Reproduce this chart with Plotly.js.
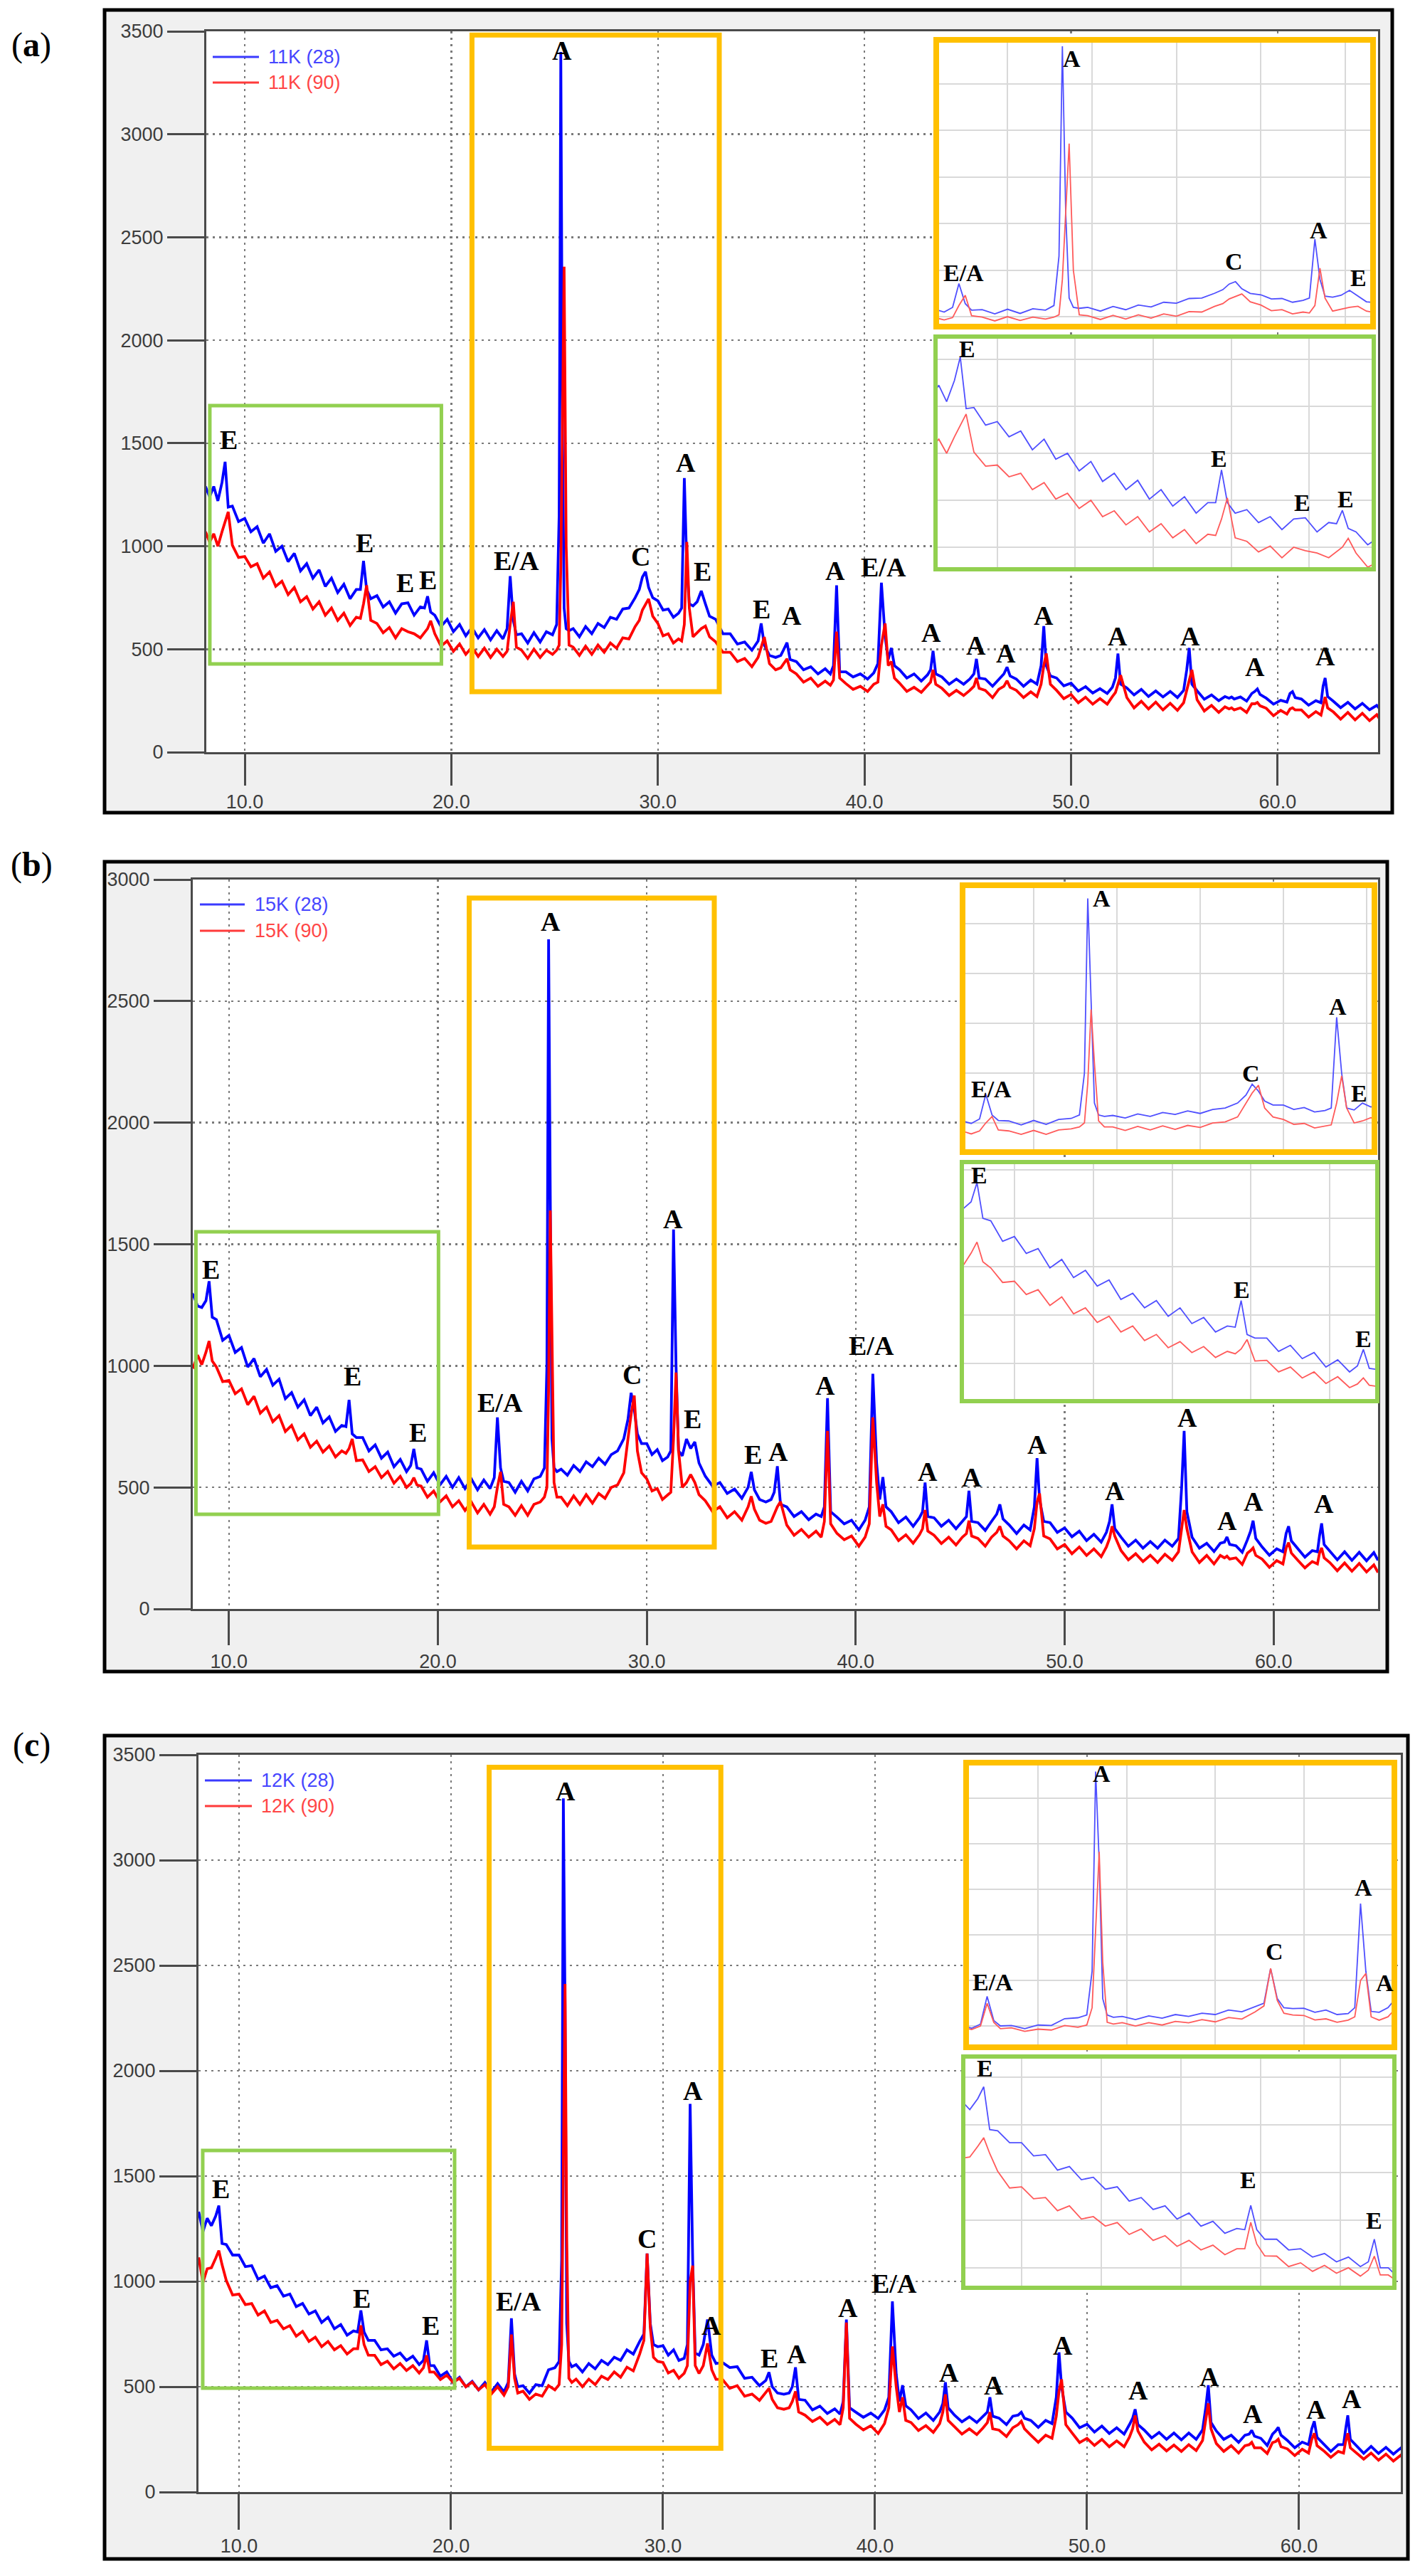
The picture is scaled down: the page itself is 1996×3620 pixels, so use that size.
<!DOCTYPE html>
<html>
<head>
<meta charset="utf-8">
<script src="https://cdn.plot.ly/plotly-3.0.1.min.js"></script>
<style>html,body{margin:0;padding:0;background:#ffffff;}</style>
</head>
<body>
<div id="chart" style="width:1996px;height:3620px;"></div>
<script>
// ---------------- DATA (2θ in degrees, intensity in counts) ----------------
const twoTheta = [
  8.1, 8.3, 8.5, 8.7, 8.9,
  9.05, 9.2,
  9.4, 9.7, 10.0, 10.3, 10.6, 10.9, 11.2, 11.5, 11.8, 12.1, 12.4, 12.7, 13.0, 13.3, 13.6, 13.9, 14.2, 14.5, 14.8, 15.1, 15.4,
  15.6, 15.75, 15.9, 16.1,
  16.4, 16.7, 17.0, 17.3, 17.6, 17.9, 18.2, 18.5,
  18.7, 18.85, 19.0,
  19.2, 19.5, 19.8, 20.1, 20.4, 20.7, 21.0, 21.3, 21.6, 21.9, 22.2, 22.5,
  22.7, 22.85, 23.0, 23.15,
  23.4, 23.7, 24.0, 24.3, 24.6, 24.9,
  25.1, 25.22, 25.3, 25.38, 25.46, 25.56, 25.7,
  25.9, 26.2, 26.5, 26.8, 27.1, 27.4, 27.7, 28.0, 28.3, 28.6, 28.9,
  29.1, 29.25, 29.4, 29.55, 29.75,
  30.0, 30.25, 30.5, 30.75, 31.0,
  31.15, 31.28, 31.4, 31.52, 31.7,
  31.9, 32.1, 32.3, 32.5,
  32.8, 33.15, 33.5, 33.85, 34.2, 34.55,
  34.85, 35.0, 35.15,
  35.4, 35.7, 35.95,
  36.1, 36.25, 36.4,
  36.7, 37.05, 37.4, 37.75, 38.1, 38.35,
  38.5, 38.65, 38.8,
  39.1, 39.45, 39.8, 40.15, 40.45,
  40.65, 40.82, 41.0, 41.15, 41.3, 41.45,
  41.7, 42.05, 42.4, 42.75, 43.05,
  43.2, 43.32, 43.45,
  43.75, 44.1, 44.45, 44.8, 45.1,
  45.3, 45.42, 45.55,
  45.85, 46.2, 46.5,
  46.75, 46.9, 47.05,
  47.35, 47.7, 48.05, 48.35,
  48.55, 48.68, 48.8, 49.0,
  49.3, 49.65, 50.0, 50.35, 50.7, 51.05, 51.4, 51.75, 52.0,
  52.15, 52.27, 52.4,
  52.7, 53.05, 53.4, 53.75, 54.1, 54.45, 54.8, 55.15, 55.45,
  55.6, 55.72, 55.85,
  56.1, 56.45, 56.8, 57.15, 57.45,
  57.65, 57.77, 57.9,
  58.2, 58.5, 58.75,
  58.9, 59.02, 59.15,
  59.45, 59.8, 60.15, 60.45,
  60.6, 60.72, 60.85,
  61.15, 61.5, 61.85, 62.1,
  62.2, 62.3, 62.42,
  62.7, 63.05, 63.4, 63.75, 64.1, 64.45, 64.8, 65.0
];

// (a) 11K
const blueA = [
  1290, 1240, 1290, 1220, 1310,
  1410, 1190,
  1195, 1120, 1135, 1070, 1095, 1015, 1060, 975, 1000, 925, 965, 880, 915, 845, 885, 805, 845, 775, 815, 745, 790,
  790, 929, 790, 745,
  760, 705, 730, 675, 720, 725, 665, 705,
  700, 757, 680,
  665, 610, 645, 585, 620, 565, 605, 555, 595, 545, 590, 550,
  600, 855, 640, 570,
  575, 530, 580, 535, 585, 570,
  620, 1150, 3400, 1600, 700, 600, 590,
  600, 560, 610, 575, 625, 605, 655, 645, 695, 700, 750,
  790, 850, 876, 800, 750,
  735, 690, 695, 655, 675,
  700, 1331, 900, 720, 710,
  730, 783, 720, 660,
  645, 575, 575, 525, 535, 495,
  540, 625, 520,
  470, 460, 470,
  500, 532, 450,
  440, 400, 415, 380, 405, 380,
  420, 810, 390,
  390, 365, 380, 355, 385,
  430, 823, 560, 450, 506, 420,
  400, 360, 380, 345, 375,
  400, 492, 380,
  365, 330, 355, 330, 355,
  380, 453, 360,
  355, 320, 355,
  380, 413, 370,
  355, 320, 350, 330,
  420, 612, 420, 370,
  360, 322, 335, 297, 318, 287, 308, 285, 315,
  360, 479, 330,
  312, 278, 305, 270, 297, 268, 295, 265, 300,
  400, 506, 330,
  298, 257, 278, 250, 270,
  262, 268, 258,
  268, 248, 285,
  295, 307, 280,
  262, 233, 252, 243,
  285, 294, 265,
  258, 228, 250, 240,
  320, 360, 270,
  247, 216, 242, 210, 237, 206, 227, 204
];
const redA = [
  1070, 1020, 1060, 1000, 1070,
  1120, 1167,
  1005, 945, 950, 900, 915, 845, 875, 805, 830, 765, 800, 730, 755, 695, 730, 665, 700, 640, 675, 615, 655,
  650, 720, 810, 640,
  625, 580, 605, 555, 600, 585, 575, 555,
  580, 600, 638,
  575, 515, 540, 490, 525, 475, 510, 465, 505, 460, 500, 465,
  490, 620, 730, 510,
  495, 455, 500, 460, 495, 475,
  495, 520, 900, 1603, 2357, 1000, 520,
  510, 470, 515, 475, 520, 485, 530, 505, 555, 550, 610,
  640, 690, 720, 744, 660,
  625, 565, 575, 530, 550,
  540, 620, 1021, 700, 560,
  580, 600, 612, 560,
  535, 485, 485, 440, 455, 415,
  460, 510, 559,
  430, 400, 410,
  430, 453, 400,
  380, 340, 360, 320, 345, 325,
  350, 585, 360,
  333, 305, 320, 295, 330,
  340, 520, 625, 420, 440, 360,
  335, 295, 315, 290, 325,
  340, 400, 330,
  310, 275, 300, 275, 300,
  320, 360, 310,
  300, 265, 305,
  320, 347, 315,
  300, 265, 293, 270,
  330, 420, 479, 330,
  300, 260, 280, 240, 267, 233, 260, 233, 270,
  290, 330, 374,
  265, 215, 247, 210, 243, 205, 237, 203, 240,
  300, 360, 400,
  255, 200, 227, 193, 220,
  210, 215, 205,
  215, 193, 235,
  235, 241, 225,
  213, 177, 203, 185,
  210, 215, 205,
  205, 170, 197, 180,
  230, 268, 215,
  195, 160, 193, 157, 189, 153, 182, 151
];

// (b) 15K
const blueB = [
  1310, 1290, 1246, 1240, 1268,
  1348, 1200,
  1190, 1105, 1125, 1055, 1075, 995, 1030, 955, 985, 920, 945, 865, 890, 830, 860, 795, 830, 765, 790, 730, 755,
  750, 860, 720, 705,
  705, 650, 675, 620, 645, 585, 615, 565,
  590, 658, 580,
  575, 525, 560, 510, 545, 500, 540, 495, 535, 490, 530, 495,
  540, 788, 580, 525,
  520, 480, 525, 485, 535, 545,
  580, 1000, 2754, 1700, 700, 580, 565,
  575, 550, 590, 565, 605, 585, 620, 595, 635, 650, 700,
  780, 889, 820, 720, 680,
  680, 635, 655, 610, 625,
  650, 1561, 1000, 650, 630,
  699, 660, 687, 600,
  546, 505, 520, 475, 493, 455,
  500, 564, 490,
  450, 440, 450,
  480, 587, 430,
  420, 380, 400, 367, 390, 380,
  420, 867, 400,
  378, 350, 365, 325, 365,
  420, 967, 600, 450, 542, 420,
  400, 355, 378, 340, 375,
  400, 520, 380,
  375, 340, 365, 330, 360,
  380, 486, 360,
  355, 323, 360,
  390, 430, 370,
  345, 310, 345, 325,
  420, 620, 450, 360,
  355, 315, 333, 297, 320, 281, 307, 275, 315,
  360, 430, 330,
  295, 258, 283, 250, 277, 250, 283, 258, 290,
  500, 732, 400,
  295, 250, 270, 236, 270,
  275, 296, 265,
  260, 233, 285,
  320, 363, 290,
  255, 221, 247, 235,
  310, 340, 280,
  247, 213, 240, 235,
  300, 352, 265,
  237, 202, 235, 200, 233, 198, 232, 200
];
const redB = [
  1010, 995, 1044, 1005, 1056,
  1102, 1020,
  995, 935, 940, 885, 905, 840, 875, 805, 830, 770, 795, 730, 755, 695, 720, 665, 690, 645, 670, 625, 650,
  640, 660, 699, 610,
  613, 565, 585, 540, 565, 517, 545, 500,
  515, 540, 510,
  505, 460, 485, 440, 465, 420, 445, 405, 440, 395, 430, 390,
  420, 500, 564, 430,
  420, 385, 425, 385, 430, 440,
  460, 500, 900, 1639, 1100, 520, 460,
  460, 425, 465, 430, 470, 435, 475, 455, 500, 510, 560,
  700, 800, 878, 650, 560,
  535, 485, 495, 450, 470,
  480, 700, 972, 650, 500,
  520, 553, 520, 470,
  445, 400, 420, 375, 400, 365,
  420, 463, 410,
  365, 352, 360,
  390, 420, 441,
  345, 303, 327, 295, 320, 295,
  360, 732, 350,
  311, 285, 300, 258, 295,
  350, 788, 520, 380, 430, 340,
  325, 281, 305, 270, 305,
  330, 407, 320,
  303, 269, 295, 263, 295,
  310, 363, 300,
  290, 258, 295,
  315, 340, 300,
  280, 247, 280, 260,
  330, 440, 475, 300,
  288, 247, 265, 227, 255, 220, 247, 215, 255,
  290, 340, 300,
  240, 202, 227, 195, 221, 191, 225, 200, 235,
  330, 407, 330,
  235, 191, 220, 185, 220,
  210, 217, 205,
  210, 183, 230,
  240, 251, 220,
  205, 171, 199, 185,
  250, 273, 230,
  201, 169, 195, 185,
  230, 251, 210,
  190, 157, 189, 155, 187, 152, 181, 150
];

// (c) 12K
const blueC = [
  1331, 1236, 1300, 1264, 1310,
  1360, 1180,
  1175, 1125, 1125, 1070, 1075, 1010, 1025, 970, 980, 930, 940, 880, 895, 845, 860, 805, 830, 775, 795, 745, 765,
  760, 862, 760, 720,
  720, 675, 680, 645, 660, 625, 645, 605,
  625, 720, 600,
  600, 550, 570, 520, 545, 500, 525, 485, 520, 475, 515, 475,
  520, 825, 560, 500,
  505, 470, 510, 505, 580, 590,
  620, 1100, 3293, 2300, 800, 620, 595,
  605, 570, 610, 585, 625, 605, 640, 625, 675, 655, 715,
  750, 1132, 800, 700, 690,
  695, 650, 675, 625, 635,
  700, 1843, 1100, 660, 650,
  700, 819, 650, 610,
  615, 591, 595, 540, 545, 505,
  530, 569, 500,
  470, 464, 470,
  500, 592, 440,
  436, 390, 408, 373, 395, 370,
  430, 819, 400,
  379, 355, 375, 349, 390,
  450, 905, 560, 430, 507, 410,
  390, 349, 375, 340, 380,
  420, 521, 400,
  365, 333, 357, 330, 360,
  380, 450, 360,
  351, 320, 360,
  365, 379, 350,
  340, 307, 340, 325,
  450, 663, 500, 380,
  351, 305, 322, 285, 313, 278, 305, 275, 320,
  350, 393, 320,
  294, 257, 283, 250, 280, 248, 280, 250, 295,
  400, 507, 330,
  290, 250, 270, 236, 270,
  275, 293, 265,
  255, 221, 275,
  290, 307, 270,
  245, 210, 237, 225,
  300, 336, 260,
  230, 193, 225, 225,
  300, 364, 250,
  220, 184, 217, 183, 212, 180, 209, 178
];
const redC = [
  1114, 994, 1060, 1065, 1110,
  1146, 1080,
  1005, 935, 940, 890, 895, 840, 860, 805, 815, 775, 790, 740, 763, 715, 735, 690, 715, 675, 695, 655, 680,
  680, 791, 700, 650,
  649, 605, 621, 585, 610, 577, 600, 565,
  590, 649, 570,
  570, 534, 555, 520, 540, 500, 522, 485, 510, 465, 500, 460,
  500, 748, 540, 470,
  479, 440, 465, 455, 505, 485,
  510, 700, 1500, 2412, 1200, 540, 520,
  536, 500, 536, 510, 550, 534, 570, 545, 593, 575, 655,
  720, 1132, 780, 640, 620,
  615, 565, 578, 540, 564,
  600, 1000, 1075, 600, 563,
  600, 706, 580, 535,
  535, 492, 505, 455, 465, 435,
  470, 492, 440,
  400, 393, 400,
  430, 478, 380,
  365, 335, 355, 321, 345, 320,
  400, 805, 350,
  322, 295, 315, 278, 325,
  400, 691, 500, 380, 450, 340,
  330, 292, 315, 283, 325,
  380, 464, 340,
  308, 275, 300, 273, 305,
  330, 379, 300,
  294, 264, 305,
  320, 336, 300,
  270, 236, 270, 255,
  360, 480, 535, 320,
  280, 235, 255, 221, 250, 215, 243, 215, 260,
  300, 364, 290,
  237, 200, 227, 195, 223, 193, 225, 197, 245,
  350, 421, 300,
  230, 193, 220, 185, 220,
  225, 236, 210,
  210, 183, 235,
  240, 251, 215,
  205, 173, 203, 185,
  250, 279, 220,
  197, 165, 193, 185,
  240, 279, 210,
  187, 156, 185, 151, 180, 147, 175, 145
];

const namesA = ['11K (28)', '11K (90)'];
const namesB = ['15K (28)', '15K (90)'];
const namesC = ['12K (28)', '12K (90)'];

// phase labels: [text, 2θ, counts]
const peaksA = [['E',9.24,1516],['E',15.8,1016],['E',17.78,823],['E',18.87,836],['E/A',23.14,929],['A',25.36,3406],['C',29.15,950],['A',31.34,1405],['E',32.17,876],
  ['E',35.03,696],['A',36.47,664],['A',38.6,881],['E/A',40.93,897],['A',43.22,580],['A',45.41,519],['A',46.86,479],['A',48.68,664],['A',52.24,564],['A',55.78,564],['A',58.9,413],['A',62.31,466]];
const peaksAO = [['E/A',22.96,973],['A',25.53,3271],['C',29.36,1095],['A',31.37,1427],['E',32.31,914]];
const peaksAG = [['E',9.23,1445],['E',15.68,977],['E',17.82,789],['E',18.94,804]];

const peaksB = [['E',9.14,1397],['E',15.93,956],['E',19.05,725],['E/A',22.97,849],['A',25.4,2826],['C',29.31,963],['A',31.26,1605],['E',32.19,781],
  ['E',35.08,636],['A',36.28,647],['A',38.55,918],['E/A',40.77,1084],['A',43.44,564],['A',45.54,542],['A',48.7,676],['A',52.39,486],['A',55.86,788],['A',57.79,363],['A',59.05,441],['A',62.41,434]];
const peaksBO = [['E/A',22.99,843],['A',25.63,2750],['C',29.23,1000],['A',31.3,1671],['E',31.82,800]];
const peaksBG = [['E',9.1,1379],['E',15.76,906],['E',18.86,703]];

const peaksC = [['E',9.15,1439],['E',15.78,919],['E',19.03,791],['E/A',23.18,905],['A',25.42,3327],['C',29.26,1203],['A',31.4,1906],['A',32.3,790],
  ['E',35.02,634],['A',36.31,654],['A',38.72,876],['E/A',40.91,990],['A',43.48,569],['A',45.62,506],['A',48.87,697],['A',52.42,484],['A',55.78,549],['A',57.82,370],['A',60.81,393],['A',62.48,444]];
const peaksCO = [['E/A',22.98,979],['A',25.44,3273],['C',29.33,1320],['A',31.35,2023],['A',31.83,973]];
const peaksCG = [['E',9.08,1439],['E',15.69,969],['E',18.84,798]];

// ---------------- LAYOUT GEOMETRY (pixels) ----------------
const W = 1996, H = 3620;
const px = v => v / W, py = v => 1 - v / H;

const panels = [
  { tag:'a', blue:blueA, red:redA, names:namesA, peaks:peaksA, peaksO:peaksAO, peaksG:peaksAG,
    frame:[147,14,1957,1142], plot:[290,44,1937,1057], xr:[8.14,64.86], yr:[0,3500], xtl:44,
    oBox:[21.0,294,32.97,3482], gBox:[8.31,428,19.52,1683],
    oIn:{stroke:[1316,56,1930,459], dom:[1320,60,1926,455], xr:[22.38,32.59], yr:[424,3439], dy:500},
    gIn:{stroke:[1315,473,1931,800], dom:[1318,476,1928,797], xr:[8.47,19.6], yr:[515,1488], dy:200},
    leg:{y1:80, y2:116, x0:299, x1:364, tx:375}, tagPos:[44,63] },
  { tag:'b', blue:blueB, red:redB, names:namesB, peaks:peaksB, peaksO:peaksBO, peaksG:peaksBG,
    frame:[147,1211,1950,2349], plot:[271,1236,1937,2261], xr:[8.27,65.0], yr:[0,3000], xtl:48,
    oBox:[21.5,255,33.23,2924], gBox:[8.42,389,20.03,1551],
    oIn:{stroke:[1353,1244,1932,1619], dom:[1357,1248,1928,1615], xr:[22.36,32.12], yr:[236,2857], dy:500},
    gIn:{stroke:[1352,1633,1936,1969], dom:[1355,1636,1933,1966], xr:[8.72,19.15], yr:[453,1424], dy:200},
    leg:{y1:1271, y2:1308, x0:281, x1:344, tx:356}, tagPos:[44,1215] },
  { tag:'c', blue:blueC, red:redC, names:namesC, peaks:peaksC, peaksO:peaksCO, peaksG:peaksCG,
    frame:[147,2439,1979,3596], plot:[279,2466,1969,3502], xr:[8.09,64.8], yr:[0,3500], xtl:50,
    oBox:[21.8,208,32.73,3441], gBox:[8.29,493,20.17,1622],
    oIn:{stroke:[1358,2477,1960,2877], dom:[1362,2481,1956,2873], xr:[22.44,31.98], yr:[297,3359], dy:500},
    gIn:{stroke:[1354,2890,1960,3215], dom:[1357,2893,1957,3212], xr:[8.59,19.3], yr:[525,1478], dy:200},
    leg:{y1:2502, y2:2538, x0:288, x1:354, tx:365}, tagPos:[44,2452] }
];

const BLUE = '#0000ff', RED = '#ff0000';
const BLUE_IN = '#4f4fff', RED_IN = '#ff5a5a';
const ORANGE = '#FFC000', GREEN = '#92D050';
const tickFont = {family:'Liberation Sans, Arial, sans-serif', size:27, color:'#3c3c3c'};
const serif = 'Liberation Serif, Times New Roman, serif';

const traces = [], shapes = [], annotations = [];
const layout = {
  width: W, height: H, margin:{l:0,r:0,t:0,b:0},
  paper_bgcolor:'#ffffff', plot_bgcolor:'rgba(0,0,0,0)', showlegend:false
};

const ax = n => (n === 1 ? '' : String(n));

// length check (debug aid)
const mism = [];
[['blueA',blueA],['redA',redA],['blueB',blueB],['redB',redB],['blueC',blueC],['redC',redC]].forEach(([n,a]) => {
  if (a.length !== twoTheta.length) mism.push(n + ':' + a.length + '/' + twoTheta.length);
});

panels.forEach((p, i) => {
  const m = i + 1, o = 4 + 2 * i, g = 5 + 2 * i;
  const xm = 'x' + ax(m), ym = 'y' + ax(m);
  const xo = 'x' + o, yo = 'y' + o, xg = 'x' + g, yg = 'y' + g;

  // frame + white plot area
  shapes.push({type:'rect', xref:'paper', yref:'paper', layer:'below',
    x0:px(p.frame[0]), x1:px(p.frame[2]), y0:py(p.frame[3]), y1:py(p.frame[1]),
    fillcolor:'#f0f0f0', line:{color:'#000000', width:5}});
  shapes.push({type:'rect', xref:'paper', yref:'paper', layer:'below',
    x0:px(p.plot[0]), x1:px(p.plot[2]), y0:py(p.plot[3]), y1:py(p.plot[1]),
    fillcolor:'#ffffff', line:{width:0}});

  // main axes
  layout['xaxis' + ax(m)] = {
    domain:[px(p.plot[0]), px(p.plot[2])], range:p.xr, anchor:ym,
    tickmode:'linear', tick0:0, dtick:10, tickformat:'.1f',
    ticks:'outside', ticklen:p.xtl, tickwidth:3, tickcolor:'#4a4a4a',
    showline:true, linecolor:'#4a4a4a', linewidth:3, mirror:true,
    showgrid:true, gridcolor:'#7a7a7a', gridwidth:2.5, griddash:'3px,6px',
    zeroline:false, tickfont:tickFont, fixedrange:true
  };
  layout['yaxis' + ax(m)] = {
    domain:[py(p.plot[3]), py(p.plot[1])], range:p.yr, anchor:xm,
    tickmode:'linear', tick0:0, dtick:500,
    ticks:'outside', ticklen:52, tickwidth:3, tickcolor:'#4a4a4a',
    showline:true, linecolor:'#4a4a4a', linewidth:3, mirror:true,
    showgrid:true, gridcolor:'#7a7a7a', gridwidth:2.5, griddash:'3px,6px',
    zeroline:false, tickfont:tickFont, fixedrange:true
  };

  // main traces
  traces.push({x:twoTheta, y:p.blue, xaxis:xm, yaxis:ym, type:'scatter', mode:'lines',
    name:p.names[0], line:{color:BLUE, width:3.8}});
  traces.push({x:twoTheta, y:p.red, xaxis:xm, yaxis:ym, type:'scatter', mode:'lines',
    name:p.names[1], line:{color:RED, width:3.8}});

  // insets
  [[p.oIn, o, xo, yo, ORANGE, 8, p.peaksO], [p.gIn, g, xg, yg, GREEN, 6, p.peaksG]].forEach(([ins, k, xk, yk, col, lw, pk]) => {
    layout['xaxis' + k] = {
      domain:[px(ins.dom[0]), px(ins.dom[2])], range:ins.xr, anchor:yk,
      tickmode:'linear', tick0:0, dtick:2, showticklabels:false, ticks:'',
      showline:false, showgrid:true, gridcolor:'#d9d9d9', gridwidth:2, zeroline:false, fixedrange:true
    };
    layout['yaxis' + k] = {
      domain:[py(ins.dom[3]), py(ins.dom[1])], range:ins.yr, anchor:xk,
      tickmode:'linear', tick0:0, dtick:ins.dy, showticklabels:false, ticks:'',
      showline:false, showgrid:true, gridcolor:'#d9d9d9', gridwidth:2, zeroline:false, fixedrange:true
    };
    // opaque white background inside the inset subplot
    shapes.push({type:'rect', xref:xk, yref:yk, layer:'below',
      x0:ins.xr[0], x1:ins.xr[1], y0:ins.yr[0], y1:ins.yr[1],
      fillcolor:'#ffffff', line:{width:0}});
    // inset border
    shapes.push({type:'rect', xref:'paper', yref:'paper', layer:'above',
      x0:px(ins.stroke[0]), x1:px(ins.stroke[2]), y0:py(ins.stroke[3]), y1:py(ins.stroke[1]),
      line:{color:col, width:lw}});
    traces.push({x:twoTheta, y:p.blue, xaxis:xk, yaxis:yk, type:'scatter', mode:'lines',
      name:p.names[0], line:{color:BLUE_IN, width:1.8}});
    traces.push({x:twoTheta, y:p.red, xaxis:xk, yaxis:yk, type:'scatter', mode:'lines',
      name:p.names[1], line:{color:RED_IN, width:1.8}});
    pk.forEach(([t, x, y]) => annotations.push({xref:xk, yref:yk, x:x, y:y, text:'<b>' + t + '</b>',
      showarrow:false, xanchor:'center', yanchor:'middle', font:{family:serif, size:34, color:'#000'}}));
  });

  // highlight boxes in the main plot
  shapes.push({type:'rect', xref:xm, yref:ym, layer:'above',
    x0:p.oBox[0], x1:p.oBox[2], y0:p.oBox[1], y1:p.oBox[3], line:{color:ORANGE, width:7}});
  shapes.push({type:'rect', xref:xm, yref:ym, layer:'above',
    x0:p.gBox[0], x1:p.gBox[2], y0:p.gBox[1], y1:p.gBox[3], line:{color:GREEN, width:5}});

  // main peak labels
  p.peaks.forEach(([t, x, y]) => annotations.push({xref:xm, yref:ym, x:x, y:y, text:'<b>' + t + '</b>',
    showarrow:false, xanchor:'center', yanchor:'middle', font:{family:serif, size:38, color:'#000'}}));

  // legend
  shapes.push({type:'line', xref:'paper', yref:'paper', layer:'above',
    x0:px(p.leg.x0), x1:px(p.leg.x1), y0:py(p.leg.y1), y1:py(p.leg.y1), line:{color:'#3a3aff', width:3}});
  shapes.push({type:'line', xref:'paper', yref:'paper', layer:'above',
    x0:px(p.leg.x0), x1:px(p.leg.x1), y0:py(p.leg.y2), y1:py(p.leg.y2), line:{color:'#ff3a3a', width:3}});
  annotations.push({xref:'paper', yref:'paper', x:px(p.leg.tx), y:py(p.leg.y1), text:p.names[0],
    showarrow:false, xanchor:'left', yanchor:'middle', font:{family:'Liberation Sans, Arial, sans-serif', size:27, color:'#4646ff'}});
  annotations.push({xref:'paper', yref:'paper', x:px(p.leg.tx), y:py(p.leg.y2), text:p.names[1],
    showarrow:false, xanchor:'left', yanchor:'middle', font:{family:'Liberation Sans, Arial, sans-serif', size:27, color:'#ff4646'}});

  // panel tag
  annotations.push({xref:'paper', yref:'paper', x:px(p.tagPos[0]), y:py(p.tagPos[1]),
    text:'(<b>' + p.tag + '</b>)', showarrow:false, xanchor:'center', yanchor:'middle',
    font:{family:serif, size:48, color:'#000'}});
});

if (mism.length) annotations.push({xref:'paper', yref:'paper', x:0.5, y:0.5, text:'LEN ' + mism.join(' '),
  showarrow:false, font:{size:40, color:'magenta'}});

layout.shapes = shapes;
layout.annotations = annotations;

Plotly.newPlot('chart', traces, layout, {staticPlot:true, displayModeBar:false});
</script>
</body>
</html>
